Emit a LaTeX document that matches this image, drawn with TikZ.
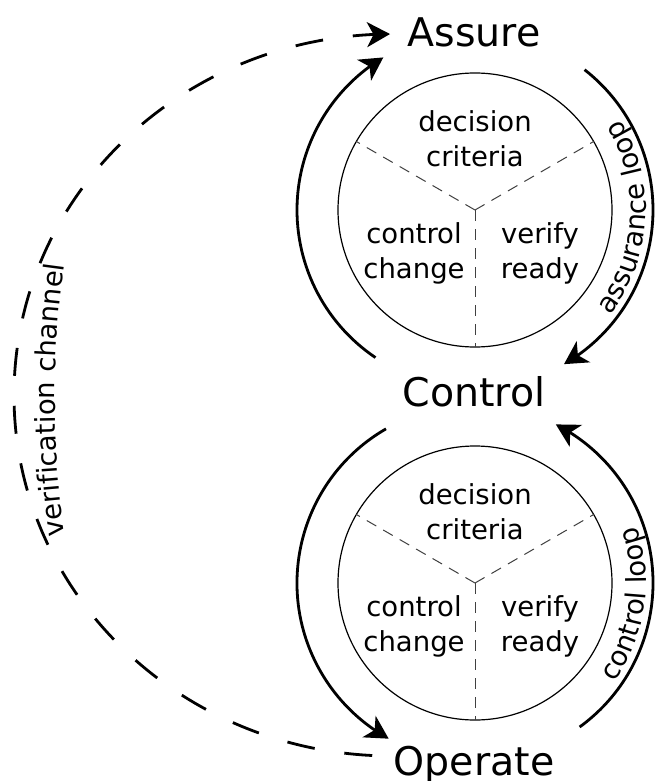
\documentclass[tikz,border=0pt]{standalone}
\usepackage{fontspec}
\setmainfont{DejaVu Sans}
\usetikzlibrary{arrows.meta,decorations.text,bending}

\newcommand\bigfont{\fontsize{39.5}{47}\selectfont}
\newcommand\smallfont{\fontsize{27.5}{35}\selectfont}

\begin{document}
\begin{tikzpicture}[x=1pt,y=1pt,
  tip/.style={-{Stealth[length=23pt,width=25pt,inset=6.5pt]}},
  looparc/.style={tip,line width=2.8pt},
  channel/.style={tip,line width=2.8pt,dash pattern=on 28pt off 30pt},
  wheel/.style={circle,draw,line width=1.2pt,inner sep=0pt,outer sep=0pt,minimum size=274pt},
  sector/.style={draw=black!75,line width=1pt,dash pattern=on 11pt off 8pt},
  stage/.style={font=\bigfont,inner sep=0pt,anchor=base},
  cell/.style={font=\smallfont,align=center,inner sep=0pt},
  arclabel/.style={decorate,decoration={text along path,text={|\smallfont|#1},text align=center}}
]
\useasboundingbox[fill=white] (0,0) rectangle (654,-781);

% stage names
\node[stage] (assure) at (474,-47) {Assure};
\node[stage] (control) at (474,-406) {Control};
\node[stage] (operate) at (474,-775) {Operate};

% upper wheel
\node[wheel] (w1) at (475,-210) {};
\draw[sector] (w1.center) -- (w1.150);
\draw[sector] (w1.center) -- (w1.30);
\draw[sector] (w1.center) -- (w1.270);
\node[cell] (w1top) at (475,-139) {decision\\criteria};
\node[cell] (w1left) at (414,-253.5) {control\\change};
\node[cell] (w1right) at (540,-253.5) {verify\\ready};

% lower wheel
\node[wheel] (w2) at (475,-583) {};
\draw[sector] (w2.center) -- (w2.150);
\draw[sector] (w2.center) -- (w2.30);
\draw[sector] (w2.center) -- (w2.270);
\node[cell] (w2top) at (475,-512) {decision\\criteria};
\node[cell] (w2left) at (414,-626.5) {control\\change};
\node[cell] (w2right) at (540,-626.5) {verify\\ready};

% assurance loop: control up to assure, assure down to control
\draw[looparc] (w1.center) ++(236:178) arc[start angle=236,end angle=121,radius=178];
\draw[looparc] (w1.center) ++(52:178) arc[start angle=52,end angle=-60,radius=178];
\path[arclabel=assurance loop] (w1.center) ++(-63:171) arc[start angle=-63,end angle=57,radius=171];

% control loop: control down to operate, operate up to control
\draw[looparc] (w2.center) ++(120:178) arc[start angle=120,end angle=241,radius=178];
\draw[looparc] (w2.center) ++(-54:178) arc[start angle=-54,end angle=63,radius=178];
\path[arclabel=control loop] (w2.center) ++(-68:171) arc[start angle=-68,end angle=52,radius=171];

% verification channel from operate back to assure
\coordinate (vc) at (392,-395);
\draw[channel] (vc) ++(267:378 and 361) arc[start angle=267,end angle=90.3,x radius=378,y radius=361];
\coordinate (vt) at (1055,-400);
\path[arclabel=verification channel] (vt) ++(192:1000) arc[start angle=192,end angle=168,radius=1000];
\end{tikzpicture}
\end{document}
